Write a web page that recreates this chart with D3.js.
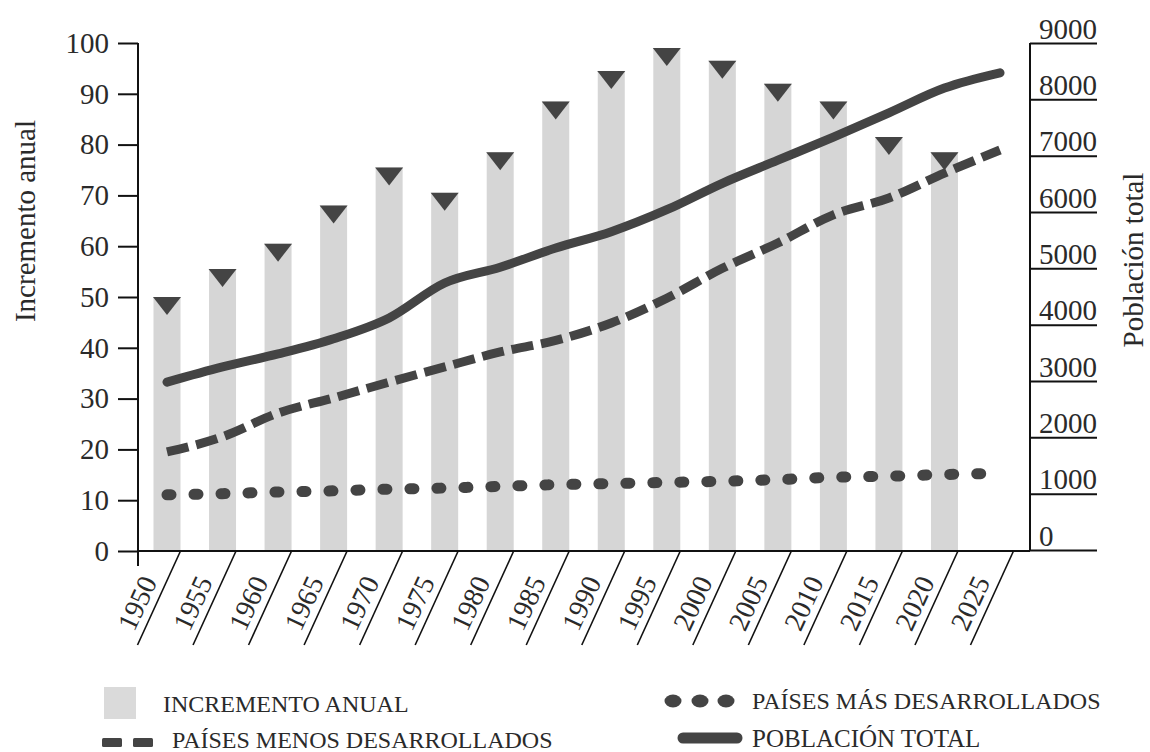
<!DOCTYPE html>
<html><head><meta charset="utf-8">
<script src="https://cdn.jsdelivr.net/npm/d3@7"></script>
<style>
html,body{margin:0;padding:0;background:#fff;}
svg{display:block;}
text{font-family:"Liberation Serif","Times New Roman",serif;fill:#2a2a2a;}
</style></head>
<body>
<svg id="chart" width="1150" height="752"></svg>
<script>
// ---- data ----
const years = [1950,1955,1960,1965,1970,1975,1980,1985,1990,1995,2000,2005,2010,2015,2020,2025];
const barYears = [1950,1955,1960,1965,1970,1975,1980,1985,1990,1995,2000,2005,2010,2015,2020];
const incrementoAnual = [50,55.5,60.5,68,75.5,70.5,78.5,88.5,94.5,99,96.5,92,88.5,81.5,78.5];
const poblacionTotal = [2980,3250,3480,3750,4120,4740,5020,5360,5650,6040,6510,6920,7330,7760,8200,8470];
const paisesMenos = [1740,2010,2430,2700,2980,3250,3515,3720,4030,4470,5000,5450,5950,6250,6690,7100];
const paisesMas = [980,1000,1030,1050,1080,1100,1130,1160,1180,1200,1220,1250,1290,1310,1340,1360];
const leftTicks = [0,10,20,30,40,50,60,70,80,90,100];
const rightTicks = [0,1000,2000,3000,4000,5000,6000,7000,8000,9000];
const leftTitle = "Incremento anual";
const rightTitle = "Población total";
const legendLabels = ["INCREMENTO ANUAL","PAÍSES MENOS DESARROLLADOS","PAÍSES MÁS DESARROLLADOS","POBLACIÓN TOTAL"];

// ---- layout ----
const svg = d3.select("#chart");
const dark = "#444";
const barColor = "#d6d6d6";
const x = d3.scalePoint().domain(years).range([167, 1000]);
const yL = d3.scaleLinear().domain([0,100]).range([551,43]);
const yR = d3.scaleLinear().domain([0,9000]).range([550,43]);
const barW = 27;

// bars
svg.append("g").selectAll("rect").data(barYears).join("rect")
  .attr("x", d => x(d) - barW/2)
  .attr("y", (d,i) => yL(incrementoAnual[i]))
  .attr("width", barW)
  .attr("height", (d,i) => yL(0) - yL(incrementoAnual[i]))
  .attr("fill", barColor);

// triangles
svg.append("g").selectAll("path").data(barYears).join("path")
  .attr("d", (d,i) => {
    const cx = x(d), ty = yL(incrementoAnual[i]);
    return `M${cx-14},${ty}L${cx+14},${ty}L${cx},${ty+18}Z`;
  })
  .attr("fill", dark);

// lines
const lineGen = arr => d3.line().x((d,i) => x(years[i])).y(d => yR(d)).curve(d3.curveMonotoneX)(arr);
svg.append("path").attr("d", lineGen(paisesMas)).attr("fill","none")
  .attr("stroke", dark).attr("stroke-width", 11).attr("stroke-linecap","round")
  .attr("stroke-dasharray","4 23");
svg.append("path").attr("d", lineGen(paisesMenos)).attr("fill","none")
  .attr("stroke", dark).attr("stroke-width", 9).attr("stroke-dasharray","22 8");
svg.append("path").attr("d", lineGen(poblacionTotal)).attr("fill","none")
  .attr("stroke", dark).attr("stroke-width", 9).attr("stroke-linecap","round");

// left axis
const gL = svg.append("g").attr("transform","translate(138,0)")
  .call(d3.axisLeft(yL).tickValues(leftTicks).tickSize(20).tickPadding(9).tickFormat(d3.format("d")));
gL.select(".domain").remove();
gL.selectAll(".tick line").attr("stroke","#111").attr("stroke-width",2);
gL.selectAll(".tick text").attr("font-size",29).attr("fill","#2a2a2a").attr("font-family","Liberation Serif");
svg.append("line").attr("x1",138).attr("x2",138).attr("y1",yL(100)).attr("y2",566)
  .attr("stroke","#111").attr("stroke-width",2);

// right axis
const gR = svg.append("g").attr("transform","translate(1030,0)")
  .call(d3.axisRight(yR).tickValues(rightTicks).tickSize(67).tickFormat(d3.format("d")));
gR.select(".domain").remove();
gR.selectAll(".tick line").attr("stroke","#111").attr("stroke-width",2);
gR.selectAll(".tick text").attr("x",9).attr("dy",-5).attr("font-size",29)
  .attr("fill","#2a2a2a").attr("font-family","Liberation Serif").attr("text-anchor","start");
svg.append("line").attr("x1",1030).attr("x2",1030).attr("y1",yR(9000)).attr("y2",yR(0))
  .attr("stroke","#111").attr("stroke-width",2);

// x axis baseline
svg.append("line").attr("x1",138).attr("x2",1030).attr("y1",yL(0)).attr("y2",yL(0))
  .attr("stroke","#111").attr("stroke-width",2);

// slanted separators and labels
const gX = svg.append("g");
gX.selectAll("line").data(years).join("line")
  .attr("x1", d => x(d) + 13.5).attr("y1", yL(0))
  .attr("x2", d => x(d) + 13.5 - 43).attr("y2", yL(0) + 94)
  .attr("stroke","#111").attr("stroke-width",1.6);
gX.selectAll("text").data(years).join("text")
  .attr("transform", d => `translate(${x(d) - 30},${yL(0) + 52}) rotate(-65)`)
  .attr("text-anchor","middle").attr("dy","0.35em")
  .attr("font-size",28).text(d => d);

// axis titles
svg.append("text").attr("transform","translate(25,221) rotate(-90)")
  .attr("text-anchor","middle").attr("dy","0.35em").attr("font-size",29).text(leftTitle);
svg.append("text").attr("transform","translate(1133,260) rotate(-90)")
  .attr("text-anchor","middle").attr("dy","0.35em").attr("font-size",29).text(rightTitle);

// legend
const lg = svg.append("g");
lg.append("rect").attr("x",104).attr("y",687).attr("width",32).attr("height",32).attr("fill","#dadada");
lg.append("text").attr("x",163).attr("y",712).attr("font-size",24).text(legendLabels[0]);
[102,133].forEach(px => lg.append("rect").attr("x",px).attr("y",738).attr("width",20).attr("height",9).attr("rx",1.5).attr("fill",dark));
lg.append("text").attr("x",172).attr("y",748).attr("font-size",24).text(legendLabels[1]);
[673,700,726].forEach(px => lg.append("ellipse").attr("cx",px).attr("cy",701).attr("rx",8.5).attr("ry",6.5).attr("fill",dark));
lg.append("text").attr("x",752).attr("y",709).attr("font-size",24).attr("fill","#555").text(legendLabels[2]);
lg.append("line").attr("x1",683).attr("x2",737).attr("y1",738).attr("y2",738)
  .attr("stroke",dark).attr("stroke-width",11).attr("stroke-linecap","round");
lg.append("text").attr("x",752).attr("y",747).attr("font-size",25).text(legendLabels[3]);
</script>
</body></html>
